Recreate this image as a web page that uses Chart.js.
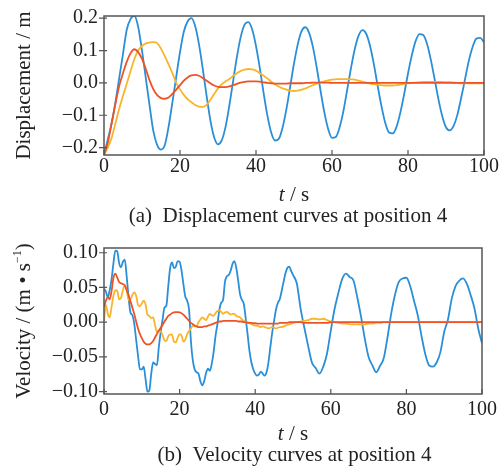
<!DOCTYPE html>
<html>
<head>
<meta charset="utf-8">
<script src="https://cdn.jsdelivr.net/npm/chart.js@4.4.1/dist/chart.umd.min.js"></script>
<style>
  html, body { margin: 0; padding: 0; background: #fff; }
  #wrap { position: relative; width: 503px; height: 475px; }
  #dispChart { position: absolute; left: 0; top: 0; }
  #velChart { position: absolute; left: 0; top: 230px; }
</style>
</head>
<body>
<div id="wrap">
  <canvas id="dispChart" width="503" height="230"></canvas>
  <canvas id="velChart" width="503" height="245"></canvas>
</div>
<script>
// time axis of the displacement plot (s)
const dispTime = [
  0, 1, 2, 3, 4, 5, 6, 7, 8, 9,
  10, 11, 12, 13, 14, 15, 16, 17, 18, 19,
  20, 21, 22, 23, 24, 25, 26, 27, 28, 29,
  30, 31, 32, 33, 34, 35, 36, 37, 38, 39,
  40, 41, 42, 43, 44, 45, 46, 47, 48, 49,
  50, 51, 52, 53, 54, 55, 56, 57, 58, 59,
  60, 61, 62, 63, 64, 65, 66, 67, 68, 69,
  70, 71, 72, 73, 74, 75, 76, 77, 78, 79,
  80, 81, 82, 83, 84, 85, 86, 87, 88, 89,
  90, 91, 92, 93, 94, 95, 96, 97, 98, 99,
  100
];

// displacement (m)
const dispBlue = [
  -0.222, -0.175, -0.125, -0.06, 0.015, 0.09, 0.165, 0.198, 0.208, 0.173,
  0.1, 0.015, -0.07, -0.15, -0.192, -0.206, -0.192, -0.135, -0.06, 0.018,
  0.095, 0.158, 0.19, 0.2, 0.175, 0.119, 0.043, -0.04, -0.116, -0.169,
  -0.19, -0.177, -0.135, -0.069, 0.007, 0.082, 0.143, 0.18, 0.188, 0.165,
  0.114, 0.046, -0.031, -0.101, -0.153, -0.178, -0.173, -0.138, -0.081, -0.011,
  0.06, 0.12, 0.16, 0.172, 0.154, 0.11, 0.046, -0.025, -0.092, -0.143,
  -0.17, -0.167, -0.137, -0.087, -0.021, 0.046, 0.105, 0.146, 0.163, 0.152,
  0.115, 0.059, -0.008, -0.071, -0.123, -0.153, -0.156, -0.135, -0.091, -0.034,
  0.029, 0.085, 0.129, 0.151, 0.148, 0.121, 0.072, 0.012, -0.05, -0.102,
  -0.137, -0.147, -0.133, -0.098, -0.046, 0.011, 0.068, 0.111, 0.137, 0.139,
  0.126
];
const dispRed = [
  -0.222, -0.185, -0.125, -0.065, -0.01, 0.03, 0.066, 0.092, 0.104, 0.095,
  0.074, 0.043, 0.008, -0.02, -0.038, -0.047, -0.049, -0.045, -0.034, -0.021,
  -0.007, 0.007, 0.017, 0.023, 0.025, 0.022, 0.015, 0.007, -0.001, -0.008,
  -0.012, -0.013, -0.013, -0.011, -0.007, -0.003, 0.001, 0.003, 0.005, 0.005,
  0.005, 0.004, 0.002, 0, -0.001, -0.002, -0.002, -0.002, -0.002, -0.001,
  -0.001, -0.001, -0.001, 0, 0, 0.001, 0.001, 0.001, 0.001, 0.001,
  0, 0, 0, 0, 0, 0, 0, 0, 0, 0,
  0, 0, 0, 0, 0, 0, 0, 0, 0, 0,
  0, 0, 0, 0, 0, 0, 0, 0, 0, 0,
  0, 0, 0, 0, 0, 0, 0, 0, 0, 0,
  0
];
const dispYellow = [
  -0.222, -0.2, -0.17, -0.125, -0.08, -0.04, -0.002, 0.037, 0.074, 0.1,
  0.114, 0.122, 0.125, 0.126, 0.123, 0.106, 0.083, 0.057, 0.03, 0,
  -0.02, -0.037, -0.05, -0.06, -0.068, -0.073, -0.074, -0.068, -0.052, -0.034,
  -0.017, -0.004, 0.005, 0.012, 0.022, 0.03, 0.037, 0.041, 0.043, 0.042,
  0.038, 0.03, 0.022, 0.014, 0.004, -0.004, -0.011, -0.017, -0.021, -0.024,
  -0.025, -0.024, -0.021, -0.017, -0.012, -0.007, -0.002, 0.002, 0.005, 0.008,
  0.01, 0.011, 0.012, 0.012, 0.012, 0.011, 0.01, 0.007, 0.004, 0.001,
  -0.002, -0.004, -0.006, -0.007, -0.008, -0.008, -0.008, -0.007, -0.005, -0.003,
  -0.001, 0, 0.001, 0.002, 0.003, 0.003, 0.003, 0.003, 0.003, 0.003,
  0.002, 0.002, 0.001, 0, -0.001, -0.001, -0.001, -0.001, -0.001, -0.001,
  -0.001
];

// time axis of the velocity plot (s): half-second steps up to 50 s, then 1 s
const velTime = [
  0, 0.5, 1, 1.5, 2, 2.5, 3, 3.5, 4, 4.5,
  5, 5.5, 6, 6.5, 7, 7.5, 8, 8.5, 9, 9.5,
  10, 10.5, 11, 11.5, 12, 12.5, 13, 13.5, 14, 14.5,
  15, 15.5, 16, 16.5, 17, 17.5, 18, 18.5, 19, 19.5,
  20, 20.5, 21, 21.5, 22, 22.5, 23, 23.5, 24, 24.5,
  25, 25.5, 26, 26.5, 27, 27.5, 28, 28.5, 29, 29.5,
  30, 30.5, 31, 31.5, 32, 32.5, 33, 33.5, 34, 34.5,
  35, 35.5, 36, 36.5, 37, 37.5, 38, 38.5, 39, 39.5,
  40, 40.5, 41, 41.5, 42, 42.5, 43, 43.5, 44, 44.5,
  45, 45.5, 46, 46.5, 47, 47.5, 48, 48.5, 49, 49.5,
  50, 51, 52, 53, 54, 55, 56, 57, 58, 59,
  60, 61, 62, 63, 64, 65, 66, 67, 68, 69,
  70, 71, 72, 73, 74, 75, 76, 77, 78, 79,
  80, 81, 82, 83, 84, 85, 86, 87, 88, 89,
  90, 91, 92, 93, 94, 95, 96, 97, 98, 99,
  100
];

// velocity (m/s)
const velBlue = [
  0.048, 0.044, 0.036, 0.046, 0.062, 0.085, 0.103, 0.102, 0.085, 0.079,
  0.087, 0.09, 0.066, 0.036, 0.014, 0.01, -0.002, -0.025, -0.048, -0.068,
  -0.068, -0.064, -0.082, -0.1, -0.098, -0.074, -0.058, -0.06, -0.062, -0.036,
  -0.014, 0.004, 0.021, 0.024, 0.052, 0.078, 0.086, 0.078, 0.08, 0.088,
  0.087, 0.075, 0.055, 0.037, 0.031, 0.018, -0.027, -0.055, -0.068, -0.072,
  -0.074, -0.085, -0.091, -0.085, -0.073, -0.067, -0.07, -0.06, -0.043, -0.02,
  -0.003, 0.017, 0.028, 0.032, 0.058, 0.066, 0.068, 0.074, 0.084, 0.088,
  0.078, 0.06, 0.04, 0.032, 0.026, 0.005, -0.018, -0.042, -0.058, -0.068,
  -0.074, -0.077, -0.075, -0.071, -0.074, -0.077, -0.072, -0.058, -0.036, -0.015,
  0.002, 0.018, 0.028, 0.033, 0.045, 0.058, 0.07, 0.078, 0.08, 0.074,
  0.068, 0.056, 0.02, -0.008, -0.034, -0.058, -0.066, -0.074, -0.064, -0.045,
  -0.012, 0.019, 0.042, 0.062, 0.07, 0.065, 0.06, 0.036, 0.008, -0.024,
  -0.05, -0.062, -0.072, -0.063, -0.052, -0.022, 0.013, 0.04, 0.058, 0.063,
  0.064, 0.052, 0.031, 0.01, -0.02, -0.046, -0.062, -0.064, -0.058, -0.043,
  -0.014, 0.004, 0.034, 0.052, 0.06, 0.063, 0.055, 0.039, 0.02, -0.009,
  -0.03
];
const velRed = [
  0.022, 0.031, 0.036, 0.033, 0.045, 0.064, 0.07, 0.064, 0.058, 0.056,
  0.055, 0.053, 0.046, 0.039, 0.03, 0.021, 0.012, 0.001, -0.009, -0.017,
  -0.023, -0.028, -0.031, -0.032, -0.032, -0.03, -0.027, -0.022, -0.017, -0.012,
  -0.008, -0.004, 0.001, 0.005, 0.009, 0.011, 0.013, 0.014, 0.0145, 0.0145,
  0.014, 0.013, 0.011, 0.008, 0.005, 0.002, -0.001, -0.003, -0.005, -0.006,
  -0.007, -0.007, -0.007, -0.006, -0.006, -0.005, -0.004, -0.003, -0.002, -0.001,
  0, 0.001, 0.001, 0.002, 0.002, 0.002, 0.002, 0.002, 0.002, 0.002,
  0.002, 0.001, 0.001, 0.001, 0, 0, -0.001, -0.001, -0.001, -0.0015,
  -0.0015, -0.002, -0.002, -0.002, -0.002, -0.002, -0.002, -0.002, -0.002, -0.002,
  -0.002, -0.002, -0.002, -0.001, -0.001, -0.001, -0.001, -0.001, 0, 0,
  0, 0, 0, -0.001, -0.001, -0.001, -0.001, -0.001, -0.001, -0.001,
  0, 0, 0, 0, 0, 0, 0, 0, 0, 0,
  0, 0, 0, 0, 0, 0, 0, 0, 0, 0,
  0, 0, 0, 0, 0, 0, 0, 0, 0, 0,
  0, 0, 0, 0, 0, 0, 0, 0, 0, 0,
  0
];
const velYellow = [
  0.002, 0.025, 0.012, 0.007, 0.022, 0.038, 0.046, 0.045, 0.033, 0.035,
  0.046, 0.053, 0.046, 0.032, 0.033, 0.039, 0.043, 0.038, 0.025, 0.023,
  0.027, 0.031, 0.025, 0.011, 0.009, 0.006, 0.007, -0.004, -0.014, -0.012,
  -0.013, -0.019, -0.026, -0.027, -0.02, -0.018, -0.018, -0.028, -0.029, -0.022,
  -0.017, -0.019, -0.028, -0.025, -0.017, -0.013, -0.009, -0.005, -0.006, -0.006,
  0, 0.004, 0.007, 0.005, 0.003, 0.008, 0.012, 0.01, 0.009, 0.013,
  0.016, 0.017, 0.015, 0.012, 0.014, 0.015, 0.013, 0.011, 0.012, 0.012,
  0.009, 0.008, 0.007, 0.004, 0.002, 0.001, 0, -0.001, -0.003, -0.004,
  -0.005, -0.005, -0.006, -0.007, -0.006, -0.007, -0.008, -0.009, -0.008, -0.007,
  -0.008, -0.009, -0.008, -0.007, -0.007, -0.006, -0.005, -0.004, -0.003, -0.002,
  -0.001, 0, 0.001, 0.002, 0.003, 0.005, 0.005, 0.004, 0.005, 0.003,
  0.001, 0, -0.001, -0.002, -0.002, -0.003, -0.003, -0.003, -0.003, -0.003,
  -0.002, -0.002, -0.001, -0.001, 0, 0, 0, 0, 0, 0,
  0, 0, 0, 0, 0, 0, 0, 0, 0, 0,
  0, 0, 0, 0, 0, 0, 0, 0, 0, 0,
  0
];

const xTicks = [0, 20, 40, 60, 80, 100];
const dispTicks = [-0.2, -0.1, 0.0, 0.1, 0.2];
const velTicks = [-0.10, -0.05, 0.00, 0.05, 0.10];

const BLUE = '#2a8fd8';
const RED = '#ee5326';
const YELLOW = '#f8b52c';
const SERIF = '"Liberation Serif", "Times New Roman", serif';

function pts(time, vals) {
  return time.map((t, i) => ({ x: t, y: vals[i] }));
}

function lineSet(label, time, vals, color, order) {
  return {
    label: label,
    data: pts(time, vals),
    borderColor: color,
    borderWidth: 1.8,
    pointRadius: 0,
    cubicInterpolationMode: 'monotone',
    fill: false,
    order: order,
  };
}

// frame, tick marks, axis titles and caption
const decor = {
  id: 'decor',
  afterDraw(chart, args, opts) {
    const ctx = chart.ctx;
    const a = chart.chartArea;
    const x = chart.scales.x;
    const y = chart.scales.y;
    ctx.save();
    ctx.strokeStyle = '#555';
    ctx.lineWidth = 1.5;
    ctx.strokeRect(a.left, a.top, a.right - a.left, a.bottom - a.top);
    ctx.lineWidth = 1.2;
    ctx.beginPath();
    opts.yTicks.forEach(v => {
      const py = y.getPixelForValue(v);
      ctx.moveTo(a.left - 5, py);
      ctx.lineTo(a.left + 3, py);
    });
    xTicks.forEach(v => {
      const px = x.getPixelForValue(v);
      ctx.moveTo(px, a.bottom);
      ctx.lineTo(px, a.bottom - 5);
    });
    ctx.stroke();

    ctx.fillStyle = '#222';
    ctx.textBaseline = 'alphabetic';

    // y title, rotated
    ctx.save();
    ctx.translate(30, (a.top + a.bottom) / 2);
    ctx.rotate(-Math.PI / 2);
    let w = 0;
    opts.yTitle.forEach(p => {
      ctx.font = p.size + 'px ' + SERIF;
      w += ctx.measureText(p.text).width;
    });
    let cx = -w / 2;
    ctx.textAlign = 'left';
    opts.yTitle.forEach(p => {
      ctx.font = p.size + 'px ' + SERIF;
      ctx.fillText(p.text, cx, -(p.rise || 0));
      cx += ctx.measureText(p.text).width;
    });
    ctx.restore();

    // x title: italic t
    const midX = (a.left + a.right) / 2;
    ctx.font = 'italic 21px ' + SERIF;
    const tw = ctx.measureText('t').width;
    ctx.font = '21px ' + SERIF;
    const rw = ctx.measureText(' / s').width;
    ctx.textAlign = 'left';
    ctx.font = 'italic 21px ' + SERIF;
    ctx.fillText('t', midX - (tw + rw) / 2, opts.xTitleY);
    ctx.font = '21px ' + SERIF;
    ctx.fillText(' / s', midX - (tw + rw) / 2 + tw, opts.xTitleY);

    // caption
    ctx.textAlign = 'center';
    ctx.fillText(opts.caption, opts.captionX, opts.captionY);
    ctx.restore();
  }
};

function makeChart(id, time, blue, red, yellow, cfg) {
  return new Chart(document.getElementById(id), {
    type: 'line',
    data: {
      datasets: [
        lineSet('Curve 1', time, red, RED, 1),
        lineSet('Curve 2', time, yellow, YELLOW, 2),
        lineSet('Curve 3', time, blue, BLUE, 3),
      ],
    },
    options: {
      responsive: false,
      animation: false,
      events: [],
      layout: { padding: { left: 0, right: 19, top: cfg.top, bottom: 0 } },
      scales: {
        x: {
          type: 'linear',
          min: 0,
          max: 100,
          afterFit: s => { s.height = cfg.xHeight; },
          afterBuildTicks: s => { s.ticks = xTicks.map(v => ({ value: v })); },
          grid: { display: false, drawTicks: false },
          border: { display: false },
          ticks: {
            maxRotation: 0,
            padding: cfg.xPad,
            color: '#222',
            font: { family: SERIF, size: 20, lineHeight: 1 },
            callback: v => String(v),
          },
        },
        y: {
          type: 'linear',
          min: cfg.yMin,
          max: cfg.yMax,
          afterFit: s => { s.width = 104; },
          afterBuildTicks: s => { s.ticks = cfg.yTicks.map(v => ({ value: v })); },
          grid: { display: false, drawTicks: false },
          border: { display: false },
          ticks: {
            padding: 6,
            color: '#222',
            font: { family: SERIF, size: 20, lineHeight: 1 },
            callback: v => v.toFixed(cfg.digits).replace('-', '\u2212'),
          },
        },
      },
      plugins: {
        legend: { display: false },
        tooltip: { enabled: false },
        decor: {
          yTicks: cfg.yTicks,
          yTitle: cfg.yTitle,
          xTitleY: cfg.xTitleY,
          caption: cfg.caption,
          captionX: cfg.captionX,
          captionY: cfg.captionY,
        },
      },
    },
    plugins: [decor],
  });
}

makeChart('dispChart', dispTime, dispBlue, dispRed, dispYellow, {
  top: 10,
  xHeight: 75,
  xPad: 1.5,
  yMin: -0.2228,
  yMax: 0.2068,
  yTicks: dispTicks,
  digits: 1,
  yTitle: [{ text: 'Displacement / m', size: 21 }],
  xTitleY: 201,
  caption: '(a)  Displacement curves at position 4',
  captionX: 288,
  captionY: 222,
});

makeChart('velChart', velTime, velBlue, velRed, velYellow, {
  top: 18,
  xHeight: 81,
  xPad: 6,
  yMin: -0.1033,
  yMax: 0.1068,
  yTicks: velTicks,
  digits: 2,
  yTitle: [
    { text: 'Velocity / (m \u2022 s', size: 21 },
    { text: '\u22121', size: 12, rise: 9 },
    { text: ')', size: 21 },
  ],
  xTitleY: 209.5,
  caption: '(b)  Velocity curves at position 4',
  captionX: 294.5,
  captionY: 230.5,
});
</script>
</body>
</html>
